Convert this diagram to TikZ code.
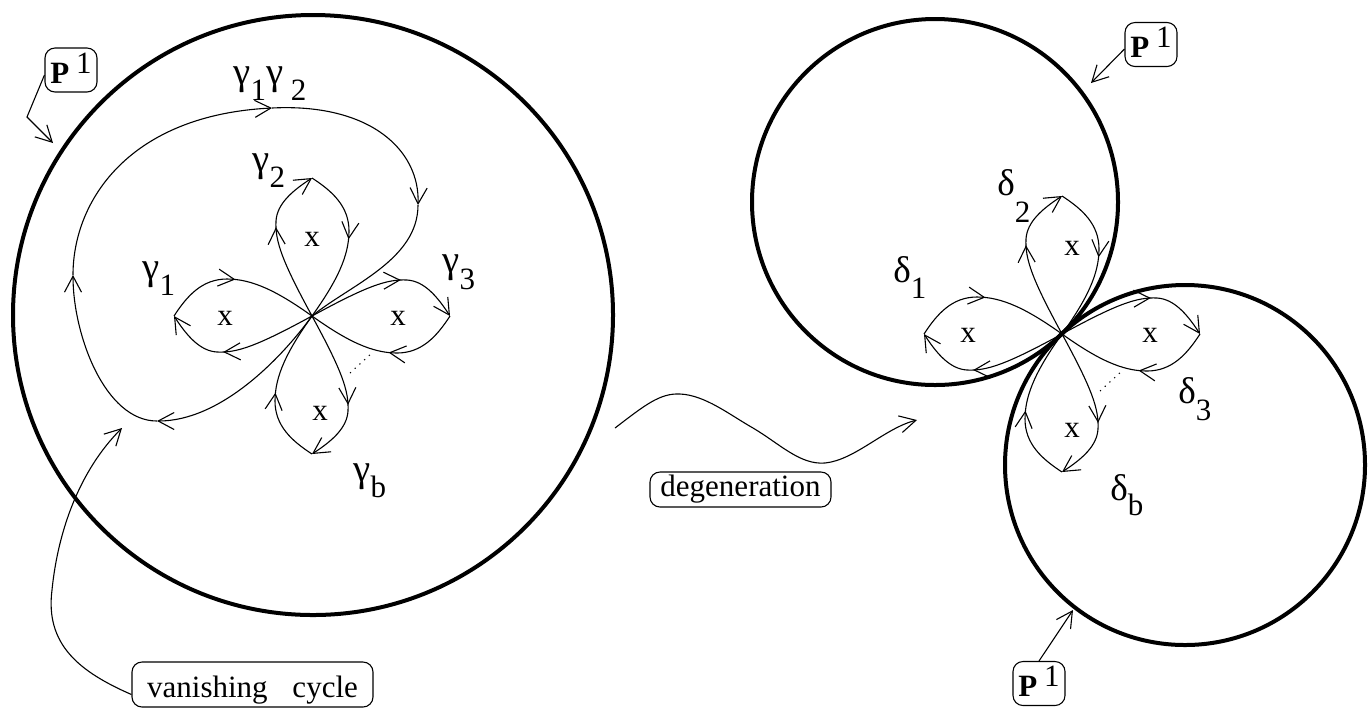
\documentclass[tikz,border=0pt]{standalone}
\usepackage{fontspec}
\usepackage{graphicx}
\setmainfont{Liberation Serif}
\usetikzlibrary{arrows.meta,decorations.markings,calc}
\newcommand\gam{\scalebox{1.25}{γ}}
\newcommand\dlt{\scalebox{1.2}{δ}}
\newcommand\glab[3]{#1\raisebox{-#3}{#2}}
\tikzset{
  thinl/.style={line width=0.55pt},
  sphere/.style={line width=2pt},
  midarrow/.style={postaction={decorate},decoration={markings,mark=at position #1 with {\arrow{>}}}},
  lbox/.style={draw,line width=0.55pt,rounded corners=5pt,inner sep=0pt},
  pbox/.style={lbox,minimum width=26pt,minimum height=22pt},
  lab/.style={anchor=base west,inner sep=0pt},
  petal/.pic={
    \draw[thinl,->,midarrow=0.6] (0,0) .. controls (-30,-55) and (-37,-75) .. (-36,-95) .. controls (-35,-112) and (-20,-125) .. (0,-138);
    \draw[thinl,midarrow=0.47] (0,-138) .. controls (20,-125) and (37,-110) .. (37,-85) .. controls (37,-60) and (25,-35) .. (0,0);
  }
}
\begin{document}
\begin{tikzpicture}[x=0.5pt,y=-0.5pt,>={Straight Barb[length=8pt,width=8.5pt]},
  every node/.style={font=\fontsize{15.5pt}{18pt}\selectfont}]
\useasboundingbox (0,0) rectangle (1368,709);
% spheres
\draw[sphere] (313,315) circle[radius=300];
\draw[sphere] (935,202) circle[radius=183];
\draw[sphere] (1185,465) circle[radius=180];
\coordinate (O1) at (312,316);
\coordinate (O2) at (1062,334);
% flowers
\foreach \o in {O1,O2}{
  \foreach \r in {0,90,180,270}{
    \pic[rotate=\r] at (\o) {petal};
  }
  \draw[thinl,dash pattern=on 0.6pt off 2.6pt] ($(\o)+(38,57)$) -- ($(\o)+(61,36)$);
}
% x marks
\node (x1t) at (312,239) {x};
\node (x1l) at (225,318) {x};
\node (x1r) at (398,318) {x};
\node (x1b) at (320,413) {x};
\node (x2t) at (1072,248) {x};
\node (x2l) at (968,335) {x};
\node (x2r) at (1150,335) {x};
\node (x2b) at (1072,430) {x};
% big loop gamma1 gamma2
\coordinate (l1) at (157,421);
\coordinate (l2) at (73,275);
\coordinate (l3) at (272,108);
\coordinate (l4) at (418,205);
\draw[thinl,->] (O1) .. controls (280,360) and (220,421) .. (l1);
\draw[thinl,->] (l1) .. controls (105,421) and (73,335) .. (l2);
\draw[thinl,->] (l2) .. controls (73,200) and (130,115) .. (l3);
\draw[thinl,->] (l3) .. controls (370,103) and (420,150) .. (l4);
\draw[thinl] (l4) .. controls (418,260) and (350,285) .. (O1);
% labels
\node[lab] (g12) at (233,84) {\gam\raisebox{-8pt}{1}\gam\ \raisebox{-8pt}{2}};
\node[lab] (g2) at (252,171) {\glab{\gam}{2}{8pt}};
\node[lab] (g1) at (142,279) {\glab{\gam}{1}{8pt}};
\node[lab] (g3) at (442,272) {\glab{\gam}{3}{8.5pt}};
\node[lab] (gb) at (353,481) {\glab{\gam}{b}{8pt}};
\node[lab] (d2) at (997,195) {\glab{\dlt}{2}{13.5pt}};
\node[lab] (d1) at (893,282) {\glab{\dlt}{1}{8pt}};
\node[lab] (d3) at (1178,403) {\glab{\dlt}{3}{8.5pt}};
\node[lab] (db) at (1110,500) {\glab{\dlt}{b}{7.5pt}};
% P1 boxes
\node[pbox] (p1a) at (71,70) {\textbf{P}\hspace{3.5pt}\raisebox{5pt}[13pt][0pt]{1}};
\node[pbox] (p1b) at (1151,44.5) {\textbf{P}\hspace{3.5pt}\raisebox{5pt}[13pt][0pt]{1}};
\node[pbox] (p1c) at (1039,683.5) {\textbf{P}\hspace{3.5pt}\raisebox{5pt}[13pt][0pt]{1}};
\coordinate (p1abend) at (27,117);
\coordinate (p1aend) at (53,143);
\coordinate (p1bend) at (1091,83);
\coordinate (p1cend) at (1073,610);
\draw[thinl,->] ([yshift=-2.5pt]p1a.west) -- (p1abend) -- (p1aend);
\draw[thinl,->] ([yshift=-2.25pt]p1b.west) -- (p1bend);
\draw[thinl,->] (p1c.north) -- (p1cend);
% vanishing cycle
\node[lbox,minimum width=120.5pt,minimum height=22.5pt] (vc) at (252.5,684.5) {\raisebox{-2.65pt}[10.6pt][3.4pt]{vanishing\hspace{0.8em}cycle}};
\coordinate (vcend) at (122,428);
\coordinate (vcmid) at (52,590);
\draw[thinl,->] ([yshift=-5pt]vc.west) .. controls (80,672) and (45,645) .. (vcmid) .. controls (58,530) and (80,470) .. (vcend);
% degeneration
\node[lbox,minimum width=90.5pt,minimum height=17.5pt] (deg) at (740.5,489.5) {degeneration};
\coordinate (w0) at (615,428);
\coordinate (w1) at (917,420);
\draw[thinl,->] (w0) .. controls (645,405) and (660,393) .. (680,394) .. controls (705,395) and (730,415) .. (753,428) .. controls (780,444) and (800,465) .. (825,463) .. controls (855,460) and (885,428) .. (w1);
\end{tikzpicture}
\end{document}
